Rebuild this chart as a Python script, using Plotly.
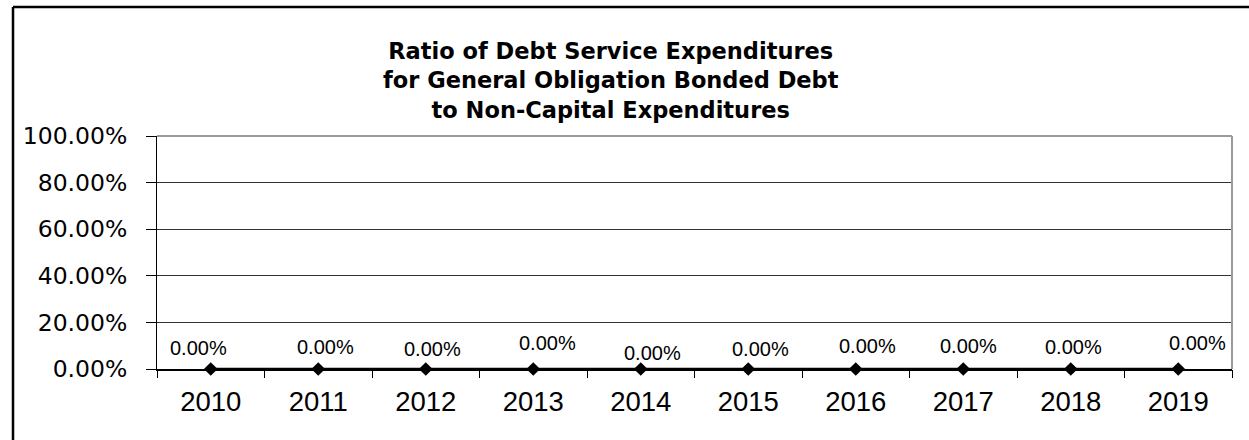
import plotly.graph_objects as go

# Chart data
years = ["2010", "2011", "2012", "2013", "2014", "2015", "2016", "2017", "2018", "2019"]
ratio = [0.0, 0.0, 0.0, 0.0, 0.0, 0.0, 0.0, 0.0, 0.0, 0.0]
y_ticks = [0.0, 0.2, 0.4, 0.6, 0.8, 1.0]

title_lines = [
    "Ratio of Debt Service Expenditures",
    "for General Obligation Bonded Debt",
    "to Non-Capital Expenditures",
]

# Per-label nudges (pixels) for the data labels
label_dx = [-12, 7, 7, 14, 12, 12, 12, 5, 3, 19]
label_dy = [21, 22, 20, 26, 16, 20, 23, 23, 22, 26]

W, H = 1249, 440
L, R, T, B = 157, 17, 136, 71
plot_w = W - L - R
plot_h = H - T - B

ARIAL = "Liberation Sans, Arial, sans-serif"
WIDE = "DejaVu Sans, sans-serif"

# category slots: one per year, boundaries halfway between
pos = list(range(len(years)))
bounds = [p - 0.5 for p in pos] + [pos[-1] + 0.5]
x_range = [bounds[0], bounds[-1]]


def px_x(px):
    return (px - L) / plot_w


def px_y(py):
    return (H - B - py) / plot_h


fig = go.Figure()
fig.add_trace(go.Scatter(
    x=pos, y=ratio, mode="lines+markers",
    line=dict(color="black", width=2.5),
    marker=dict(symbol="diamond", size=10.5, color="black"),
    cliponaxis=False, showlegend=False, hoverinfo="skip",
))
# carrier trace for the boundary-tick axis
fig.add_trace(go.Scatter(
    x=pos, y=ratio, xaxis="x2", mode="none",
    showlegend=False, hoverinfo="skip",
))

for p, v, dx, dy in zip(pos, ratio, label_dx, label_dy):
    fig.add_annotation(
        x=p, y=v, xref="x", yref="y", text=f"{v:.2%}", showarrow=False,
        xshift=dx, yshift=dy, font=dict(family=ARIAL, size=20, color="black"),
    )

# Title
fig.add_annotation(
    xref="paper", yref="paper",
    x=px_x(611), y=px_y(80),
    xanchor="center", yanchor="middle",
    text="<br>".join(f"<b>{s}</b>" for s in title_lines),
    showarrow=False, font=dict(family=WIDE, size=22.5, color="black"),
)

frame = dict(color="black", width=2.5)
shapes = [
    # outer chart frame: left and top edges (the others run off the page)
    dict(type="line", xref="paper", yref="paper",
         x0=px_x(13), x1=px_x(13), y0=px_y(H + 10), y1=px_y(7), line=frame),
    dict(type="line", xref="paper", yref="paper",
         x0=px_x(13), x1=px_x(W + 10), y0=px_y(7), y1=px_y(7), line=frame),
    # plot-area border (top and right)
    dict(type="line", xref="paper", yref="paper", x0=0, x1=1, y0=1, y1=1,
         line=dict(color="#9a9a9a", width=2)),
    dict(type="line", xref="paper", yref="paper", x0=1, x1=1, y0=0, y1=1,
         line=dict(color="#9a9a9a", width=2)),
]

fig.update_layout(
    template="none",
    width=W, height=H,
    margin=dict(l=L, r=R, t=T, b=B, pad=0, autoexpand=False),
    paper_bgcolor="white", plot_bgcolor="white",
    shapes=shapes,
    showlegend=False,
    xaxis=dict(
        range=x_range, tickvals=pos, ticktext=years, ticks="",
        showline=True, linecolor="black", linewidth=1.5,
        showgrid=False, zeroline=False, automargin=False, tickangle=0,
        tickfont=dict(family=ARIAL, size=27.5, color="black"),
        ticklabelstandoff=7,
    ),
    xaxis2=dict(
        range=x_range, overlaying="x", anchor="y", side="bottom",
        tickvals=bounds, ticks="outside", ticklen=8, tickcolor="black",
        tickwidth=1, showticklabels=False, showline=False,
        showgrid=False, zeroline=False, automargin=False,
    ),
    yaxis=dict(
        range=[0, 1], tickvals=y_ticks, tickformat=".2%", ticks="outside",
        ticklen=10, tickcolor="black", tickwidth=1, showline=True,
        linecolor="black", linewidth=1, showgrid=True, gridcolor="#333333",
        gridwidth=1, zeroline=False, automargin=False,
        tickfont=dict(family=WIDE, size=23.5, color="black"),
        ticklabelstandoff=14,
    ),
)

fig.write_html("out.html")
